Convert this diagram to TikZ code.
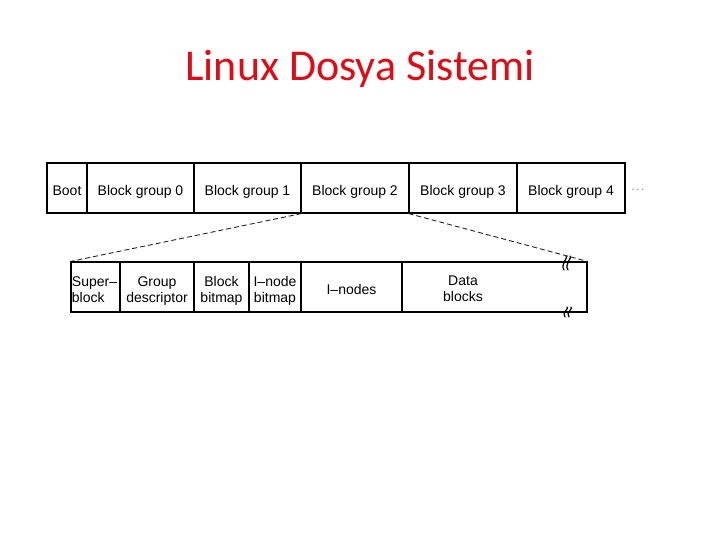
\documentclass[tikz,border=0pt]{standalone}
\usepackage{fontspec}
\setmainfont{Liberation Sans}
\newfontfamily\titlefont{Carlito}
\definecolor{titlered}{RGB}{222,12,22}
\newcommand\ct[2][c]{\raisebox{-4.5pt}[\height][\depth]{\begin{tabular}{@{}#1@{}}#2\end{tabular}}}
\begin{document}
\begin{tikzpicture}[x=1pt,y=-1pt,
  cell/.style={draw, line width=1.1pt, minimum height=50pt, inner sep=0pt,
    font=\fontsize{14}{16}\selectfont, text=black},
  conn/.style={line width=0.9pt, dash pattern=on 5pt off 3pt, black!85},
  brk/.style={line width=1.2pt, black, line cap=round}]
\useasboundingbox (0,0) rectangle (720,540);
\node[anchor=base, text=titlered, font=\titlefont\fontsize{44}{48}\selectfont] (title) at (360,81) {Linux Dosya Sistemi};
% top row
\node[cell, minimum width=40pt] (boot) at (67,188) {\ct{Boot}};
\node[cell, minimum width=107pt] (bg0) at (140.5,188) {\ct{Block group 0}};
\node[cell, minimum width=107pt] (bg1) at (247.5,188) {\ct{Block group 1}};
\node[cell, minimum width=108pt] (bg2) at (355,188) {\ct{Block group 2}};
\node[cell, minimum width=108pt] (bg3) at (463,188) {\ct{Block group 3}};
\node[cell, minimum width=108pt] (bg4) at (571,188) {\ct{Block group 4}};
\node[font=\fontsize{11}{12}\selectfont, text=black!75] (dots) at (638,190) {$\cdots$};
% bottom row
\node[cell, minimum width=49pt] (super) at (95.5,287) {\hspace*{-1pt}\ct[l]{Super--\\block}\hspace*{1pt}};
\node[cell, minimum width=74pt] (group) at (157,287) {\ct{Group\\descriptor}};
\node[cell, minimum width=55pt] (bbit) at (221.5,287) {\ct{Block\\bitmap}};
\node[cell, minimum width=52pt] (ibit) at (275,287) {\ct{I--node\\bitmap}};
\node[cell, minimum width=101pt] (inodes) at (351.5,287) {\ct{I--nodes}};
\node[cell, minimum width=185pt] (data) at (494.5,287) {};
\node[font=\fontsize{14}{16}\selectfont, text=black, align=center] (datalbl) at (463,289) {Data\\blocks};
% connectors
\draw[conn] (bg1.south east) -- (super.north west);
\draw[conn] (bg3.south west) -- (data.north east);
% break marks
\coordinate (bt) at (565,263);
\coordinate (bb) at (566,312);
\foreach \c/\h in {bt/7,bb/5}{
  \draw[brk] ([shift={(1,-\h)}]\c) .. controls ([shift={(4,-\h+1)}]\c) and ([shift={(-5,1)}]\c) .. ([shift={(-1,\h)}]\c);
  \draw[brk] ([shift={(5,-\h)}]\c) .. controls ([shift={(8,-\h+1)}]\c) and ([shift={(-1,1)}]\c) .. ([shift={(3,\h)}]\c);
}
\end{tikzpicture}
\end{document}
